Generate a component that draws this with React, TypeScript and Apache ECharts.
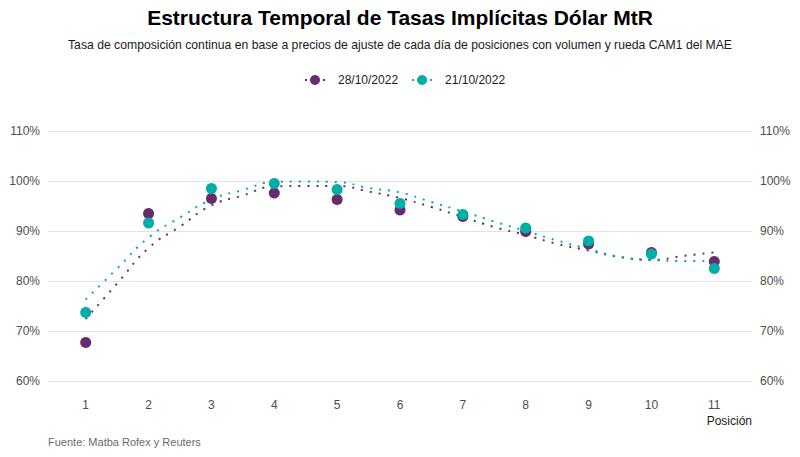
import React, { useEffect, useRef } from "react";
import * as echarts from "echarts";

// Posiciones (eje X)
const positions = [1, 2, 3, 4, 5, 6, 7, 8, 9, 10, 11];

// Tasas implícitas observadas (%)
const rates2810 = [67.7, 93.5, 96.5, 97.6, 96.3, 94.2, 92.9, 89.9, 87.4, 85.7, 83.9];
const rates2110 = [73.7, 91.6, 98.5, 99.5, 98.3, 95.5, 93.3, 90.6, 88.0, 85.4, 82.5];

// Curvas suavizadas (posición, %)
const trendX = [1, 1.5, 2, 2.5, 3, 3.5, 4, 4.5, 5, 5.5, 6, 6.5, 7, 7.5, 8, 8.5, 9, 9.5, 10, 10.5, 11];
const trend2810 = [72.4, 79.5, 86.6, 90.9, 95.1, 97.1, 98.9, 99.0, 99.0, 97.9, 96.6, 94.8, 92.8, 90.8, 89.2, 87.4, 86.1, 84.8, 84.2, 85.0, 85.7];
const trend2110 = [76.3, 82.5, 88.7, 92.7, 96.3, 98.2, 99.8, 99.9, 99.8, 98.6, 97.7, 95.8, 93.9, 91.9, 90.0, 88.1, 86.4, 84.8, 84.2, 84.0, 84.0];

const PURPLE = "#662D6E";
const TEAL = "#00AEA6";
const FONT = "Liberation Sans, Arial, sans-serif";

// icono de leyenda: punto grande con puntitos a los lados
const legendIcon =
  "path://M0,4h2v2h-2z M18,4h2v2h-2z M10,0a5,5 0 1,0 0.01,0z";

const App: React.FC = () => {
  const chartRef = useRef<HTMLDivElement>(null);

  useEffect(() => {
    if (!chartRef.current) return;
    const chart = echarts.init(chartRef.current, null, { renderer: "svg" });

    const pairs = (xs: number[], ys: number[]) => xs.map((x, i) => [x, ys[i]]);

    const yAxisCommon = {
      type: "value" as const,
      min: 60,
      max: 110,
      interval: 10,
      axisLine: { show: false },
      axisTick: { show: false },
      axisLabel: {
        color: "#4D4D4D",
        fontSize: 12,
        fontFamily: FONT,
        formatter: (v: number) => `${v}%`,
      },
    };

    chart.setOption({
      animation: false,
      textStyle: { fontFamily: FONT },
      title: [
        {
          text: "Estructura Temporal de Tasas Implícitas Dólar MtR",
          left: "center",
          top: 2,
          textStyle: {
            fontSize: 21,
            fontWeight: "bold",
            color: "#000",
            fontFamily: FONT,
          },
        },
        {
          text: "Tasa de composición continua en base a precios de ajuste de cada día de posiciones con volumen y rueda CAM1 del MAE",
          left: "center",
          top: 34,
          textStyle: {
            fontSize: 12.2,
            fontWeight: "normal",
            color: "#1A1A1A",
            fontFamily: FONT,
          },
        },
        {
          text: "Fuente: Matba Rofex y Reuters",
          left: 43,
          top: 431,
          textStyle: {
            fontSize: 11,
            fontWeight: "normal",
            color: "#6B6B6B",
            fontFamily: FONT,
          },
        },
      ],
      legend: {
        top: 69,
        left: 300,
        itemWidth: 20,
        itemHeight: 10,
        itemGap: 14,
        icon: legendIcon,
        textStyle: {
          fontSize: 12,
          color: "#1A1A1A",
          fontFamily: FONT,
          padding: [0, 0, 0, 8],
        },
        data: [
          { name: "28/10/2022", itemStyle: { color: PURPLE } },
          { name: "21/10/2022", itemStyle: { color: TEAL } },
        ],
      },
      grid: { left: 48, right: 48, top: 131, bottom: 76 },
      xAxis: {
        type: "value",
        min: 0.4,
        max: 11.6,
        axisLine: { show: false },
        axisTick: { show: false },
        splitLine: { show: false },
        axisLabel: {
          customValues: positions,
          color: "#4D4D4D",
          fontSize: 12,
          fontFamily: FONT,
          margin: 18,
        },
      },
      yAxis: [
        {
          ...yAxisCommon,
          position: "left",
          splitLine: { lineStyle: { color: "#E3E3E3", width: 1 } },
        },
        {
          ...yAxisCommon,
          position: "right",
          splitLine: { show: false },
        },
      ],
      graphic: [
        {
          type: "text",
          right: 48,
          top: 415,
          style: {
            text: "Posición",
            fontSize: 12,
            fill: "#1A1A1A",
            fontFamily: FONT,
          },
        },
      ],
      series: [
        {
          name: "28/10/2022",
          type: "line",
          data: pairs(trendX, trend2810),
          smooth: true,
          showSymbol: false,
          symbol: "none",
          silent: true,
          lineStyle: { color: PURPLE, width: 2, type: [2, 7] },
          itemStyle: { color: PURPLE },
          z: 2,
        },
        {
          name: "21/10/2022",
          type: "line",
          data: pairs(trendX, trend2110),
          smooth: true,
          showSymbol: false,
          symbol: "none",
          silent: true,
          lineStyle: { color: TEAL, width: 2, type: [2, 7] },
          itemStyle: { color: TEAL },
          z: 3,
        },
        {
          name: "28/10/2022",
          type: "scatter",
          data: pairs(positions, rates2810),
          symbolSize: 11,
          itemStyle: { color: PURPLE, opacity: 1 },
          z: 4,
        },
        {
          name: "21/10/2022",
          type: "scatter",
          data: pairs(positions, rates2110),
          symbolSize: 11,
          itemStyle: { color: TEAL, opacity: 1 },
          z: 5,
        },
      ],
    });

    return () => {
      chart.dispose();
    };
  }, []);

  return (
    <div
      ref={chartRef}
      style={{ position: "absolute", left: 0, top: 0, width: "800px", height: "457px" }}
    />
  );
};

export default App;
